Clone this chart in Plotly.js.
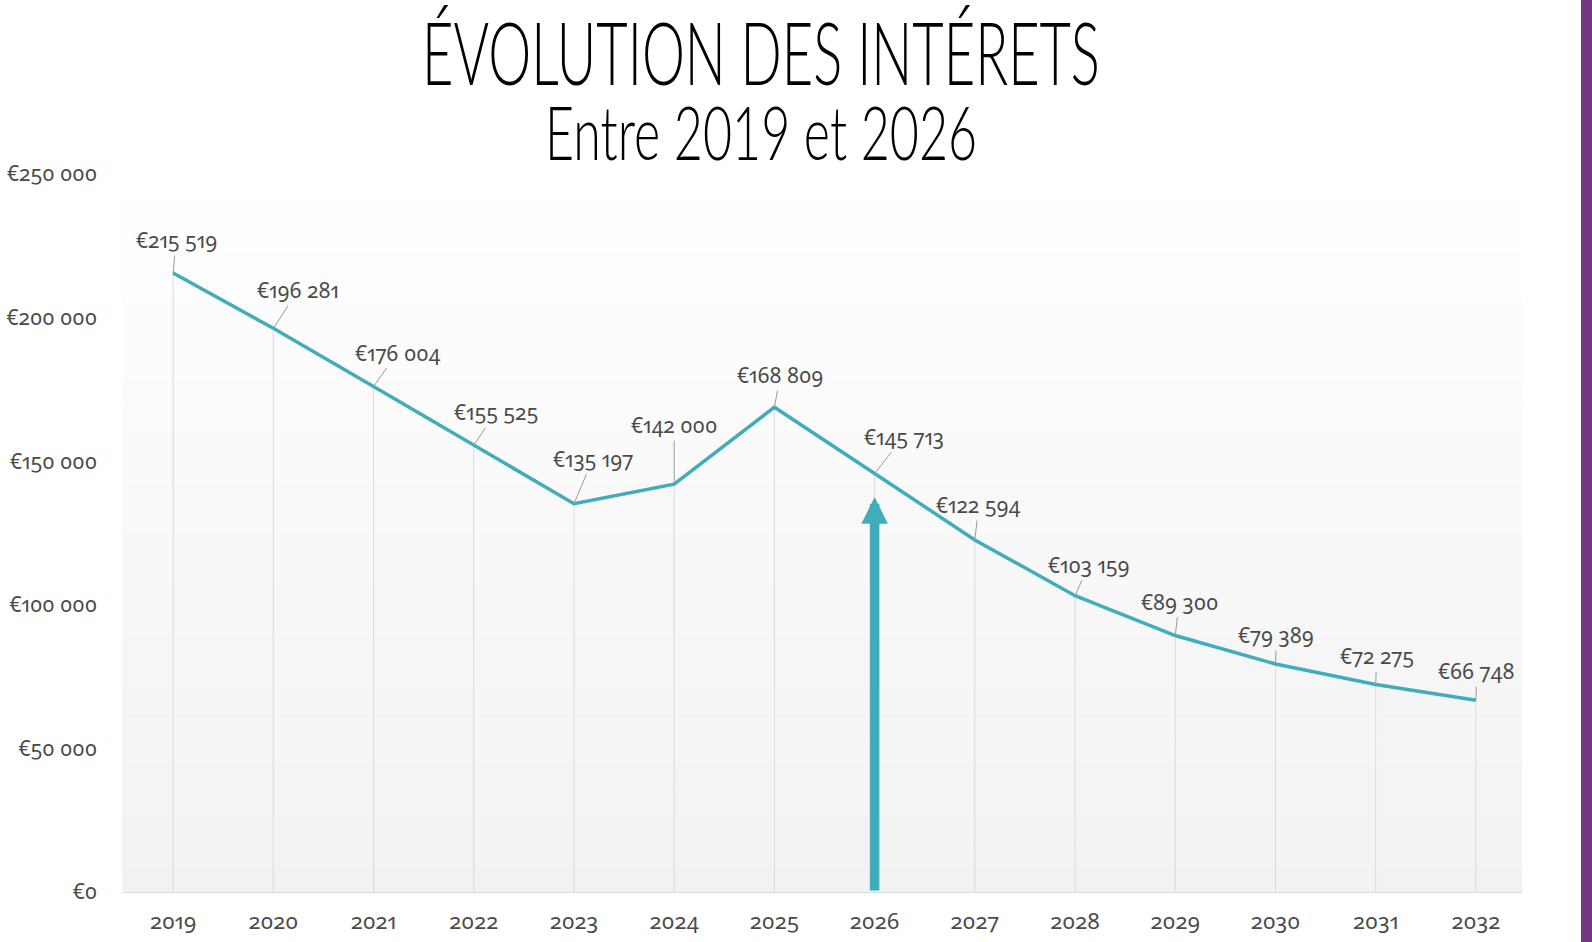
<!DOCTYPE html>
<html>
<head>
<meta charset="utf-8">
<script src="https://cdn.plot.ly/plotly-3.0.1.min.js"></script>
<style>
  body { margin: 0; background: #fff; }
  #chart { width: 1592px; height: 942px; }
  .xtick text, .ytick text, .annotation-text { font-feature-settings: "onum" 1, "pnum" 1; }
</style>
</head>
<body>
<div id="chart"></div>
<script>
// yearly interest amounts
const years = ['2019', '2020', '2021', '2022', '2023', '2024', '2025',
               '2026', '2027', '2028', '2029', '2030', '2031', '2032'];
const interets = [215519, 196281, 176004, 155525, 135197, 142000, 168809,
                  145713, 122594, 103159, 89300, 79389, 72275, 66748];

// callout offsets in px (label centre relative to point)
const labelDx = [3, 25, 24, 22, 19, 0, 6, 29, 4, 14, 4, 1, 1, 1];
const labelDy = [-33, -38, -34, -33, -45, -59, -32, -37, -35, -31, -34, -29, -28, -29];

const teal = '#41acba';
const textGrey = '#4a4a4a';
const labelFont = 'Noto Sans, Open Sans, sans-serif';
const titleFont = 'Lato, Liberation Sans Narrow, sans-serif';

// plot area in page pixels: left 122, right 1522, top 174, bottom 892
const px = x => (x - 122) / 1400;
const py = y => (892 - y) / 718;

function euro(v) {
  return '€' + String(v).replace(/\B(?=(\d{3})+(?!\d))/g, ' ');
}

// drop lines from each point to the axis
let dropX = [], dropY = [];
years.forEach((yr, i) => {
  dropX.push(yr, yr, null);
  dropY.push(0, interets[i], null);
});

let dropLines = {
  x: dropX,
  y: dropY,
  mode: 'lines',
  line: {color: '#d9d9d9', width: 1},
  hoverinfo: 'skip'
};

let interetsLine = {
  x: years,
  y: interets,
  mode: 'lines',
  line: {color: teal, width: 3.5},
  hoverinfo: 'x+y'
};

// soft vertical gradient behind the plot
let shapes = [];
const bands = 28;
for (let i = 0; i < bands; i++) {
  let c = Math.round(255 - (255 - 242) * (i + 0.5) / bands);
  shapes.push({
    type: 'rect', xref: 'paper', yref: 'paper', layer: 'below',
    x0: 0, x1: 1, y0: 1 - (i + 1) / bands, y1: 1 - i / bands,
    fillcolor: `rgb(${c},${c},${c})`, line: {width: 0}
  });
}
// purple strip on the right edge
shapes.push({
  type: 'rect', xref: 'paper', yref: 'paper', layer: 'above',
  x0: px(1581), x1: px(1600), y0: py(950), y1: py(-10),
  fillcolor: '#733784', line: {width: 0}
});

let annotations = [
  {
    text: 'ÉVOLUTION DES INTÉRETS', xref: 'paper', yref: 'paper',
    x: px(761), y: py(52), xanchor: 'center', yanchor: 'middle', showarrow: false,
    font: {family: titleFont, size: 86, weight: 300, color: '#000'}
  },
  {
    text: 'Entre 2019 et 2026', xref: 'paper', yref: 'paper',
    x: px(761), y: py(131), xanchor: 'center', yanchor: 'middle', showarrow: false,
    font: {family: titleFont, size: 75, weight: 300, color: '#000'}
  }
];

// value callouts, one per year (x given as category index)
years.forEach((yr, i) => {
  annotations.push({
    x: i, y: interets[i], xref: 'x', yref: 'y',
    text: euro(interets[i]),
    showarrow: true, arrowhead: 0, arrowwidth: 1, arrowcolor: '#9a9a9a', standoff: 0,
    ax: labelDx[i], ay: labelDy[i],
    font: {family: labelFont, size: 21, color: textGrey}
  });
});

// big arrow pointing up at 2026
const arrowIdx = years.indexOf('2026');
annotations.push({
  text: '', x: arrowIdx, y: 137500, xref: 'x', yref: 'y',
  ax: arrowIdx, ay: 0, axref: 'x', ayref: 'y',
  showarrow: true, arrowhead: 2, arrowsize: 0.56, arrowwidth: 9.5, arrowcolor: teal
});

let layout = {
  width: 1592,
  height: 942,
  margin: {l: 122, r: 70, t: 174, b: 50},
  paper_bgcolor: '#ffffff',
  plot_bgcolor: 'rgba(0,0,0,0)',
  showlegend: false,
  separators: ', ',
  xaxis: {
    type: 'category',
    range: [-0.51, 13.46],
    showgrid: false,
    zeroline: false,
    showline: true,
    linecolor: '#d9d9d9',
    linewidth: 1,
    ticks: '',
    ticklabelstandoff: 10,
    tickfont: {family: labelFont, size: 22, color: textGrey}
  },
  yaxis: {
    range: [0, 250000],
    dtick: 50000,
    tickprefix: '€',
    tickformat: ',d',
    showgrid: false,
    zeroline: false,
    showline: false,
    ticks: '',
    ticklabelstandoff: 24,
    tickfont: {family: labelFont, size: 21, color: textGrey}
  },
  shapes: shapes,
  annotations: annotations
};

const config = {staticPlot: true, displayModeBar: false};

Plotly.newPlot('chart', [dropLines, interetsLine], layout, config).then(() => {
  // squeeze the two title lines to the condensed look of the original
  const targets = [[0, 678], [1, 432]];
  targets.forEach(([idx, w]) => {
    let el = document.querySelector('.annotation[data-index="' + idx + '"] text.annotation-text');
    if (!el) return;
    el.style.fontFeatureSettings = 'normal';
    let bb = el.getBBox();
    el.style.transformBox = 'fill-box';
    el.style.transformOrigin = 'center';
    el.style.transform = 'scaleX(' + (w / bb.width) + ')';
  });
});
</script>
</body>
</html>
